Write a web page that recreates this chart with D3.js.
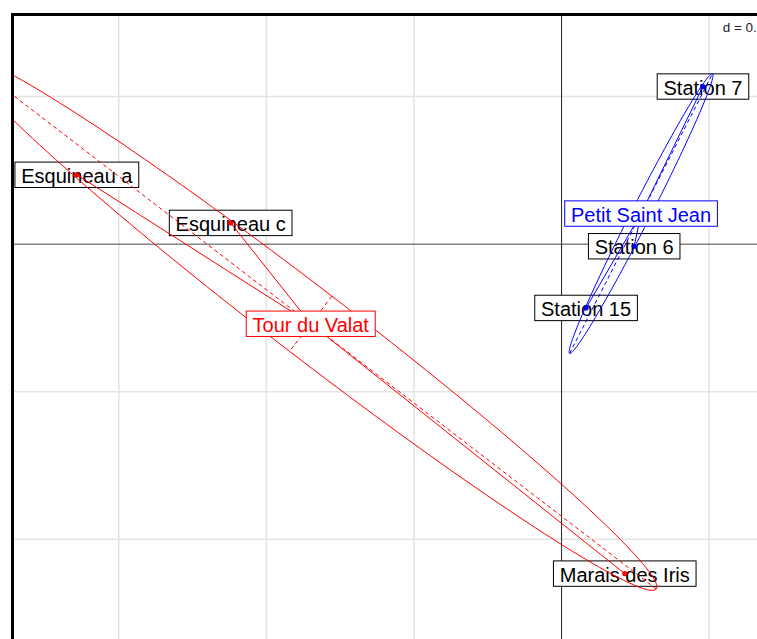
<!DOCTYPE html>
<html>
<head>
<meta charset="utf-8">
<script src="https://cdn.jsdelivr.net/npm/d3@7"></script>
<style>
  html, body { margin: 0; padding: 0; background: #fff; }
  svg { display: block; }
  text { font-family: "Liberation Sans", Arial, sans-serif; }
</style>
</head>
<body>
<svg id="chart" width="757" height="639"></svg>
<script>
// Site coordinates on the first two factorial axes
const sites   = ["Esquineau a", "Esquineau c", "Marais des Iris", "Station 7", "Station 6", "Station 15"];
const axis1   = [-1.642, -1.121, 0.214, 0.479, 0.246, 0.083];
const axis2   = [0.235, 0.072, -1.116, 0.534, -0.007, -0.216];
const groupOf = ["Tour du Valat", "Tour du Valat", "Tour du Valat", "Petit Saint Jean", "Petit Saint Jean", "Petit Saint Jean"];

// Groups and their colours
const groups      = ["Tour du Valat", "Petit Saint Jean"];
const groupColors = ["#ff0000", "#0000ff"];

// Grid lines (step 0.5)
const gridLabel = "d = 0.5";
const xTicks = [-1.5, -1, -0.5, 0.5];
const yTicks = [0.5, -0.5, -1];

const cellipse = 1.5;

const svg = d3.select("#chart");
const unit = 295.2;
const panelLeft = 12.5, panelTop = 14.5;
const xDom = [-1.86, 0.80], yDom = [0.778, -1.45];
const x = d3.scaleLinear().domain(xDom).range([panelLeft, panelLeft + (xDom[1] - xDom[0]) * unit]);
const y = d3.scaleLinear().domain(yDom).range([panelTop, panelTop + (yDom[0] - yDom[1]) * unit]);
const panelRight = x(xDom[1]), panelBottom = y(yDom[1]);

svg.append("defs").append("clipPath").attr("id", "panel")
  .append("rect").attr("x", panelLeft).attr("y", panelTop)
  .attr("width", panelRight - panelLeft).attr("height", panelBottom - panelTop);

const g = svg.append("g").attr("clip-path", "url(#panel)");

// grid
g.selectAll("line.gx").data(xTicks).join("line")
  .attr("x1", d => x(d)).attr("x2", d => x(d))
  .attr("y1", panelTop).attr("y2", panelBottom)
  .attr("stroke", "#e3e3e3").attr("stroke-width", 1.5);
g.selectAll("line.gy").data(yTicks).join("line")
  .attr("y1", d => y(d)).attr("y2", d => y(d))
  .attr("x1", panelLeft).attr("x2", panelRight)
  .attr("stroke", "#e3e3e3").attr("stroke-width", 1.5);

// origin axes
g.append("line").attr("x1", x(0)).attr("x2", x(0)).attr("y1", panelTop).attr("y2", panelBottom)
  .attr("stroke", "#222").attr("stroke-width", 1);
g.append("line").attr("y1", y(0)).attr("y2", y(0)).attr("x1", panelLeft).attr("x2", panelRight)
  .attr("stroke", "#444").attr("stroke-width", 1);

const fontSize = 20;
const pad = 6.3, boxH = 25.4;

function boxedLabel(parent, px, py, txt, color) {
  const lg = parent.append("g");
  const t = lg.append("text")
    .attr("x", px).attr("y", py).attr("dy", "0.4em")
    .attr("text-anchor", "middle")
    .attr("font-size", fontSize)
    .attr("fill", color)
    .text(txt);
  const w = t.node().getComputedTextLength();
  lg.insert("rect", "text")
    .attr("x", px - w / 2 - pad).attr("y", py - boxH / 2)
    .attr("width", w + 2 * pad).attr("height", boxH)
    .attr("fill", "#fff").attr("stroke", color).attr("stroke-width", 1);
}

// site labels
const pts = sites.map((s, i) => ({ name: s, x: axis1[i], y: axis2[i], grp: groupOf[i] }));
const siteLayer = g.append("g");
pts.forEach(p => boxedLabel(siteLayer, x(p.x), y(p.y), p.name, "#000"));

// group ellipses, stars and ellipse axes
const classLayer = g.append("g");
const centers = [];
groups.forEach((grp, gi) => {
  const col = groupColors[gi];
  const members = pts.filter(p => p.grp === grp);
  const n = members.length;
  const mx = d3.mean(members, p => p.x), my = d3.mean(members, p => p.y);
  const vx = d3.sum(members, p => (p.x - mx) ** 2) / n;
  const vy = d3.sum(members, p => (p.y - my) ** 2) / n;
  const cxy = d3.sum(members, p => (p.x - mx) * (p.y - my)) / n;
  const tr = vx + vy, det = vx * vy - cxy * cxy;
  const disc = Math.sqrt(tr * tr / 4 - det);
  const l1 = tr / 2 + disc, l2 = Math.max(tr / 2 - disc, 0);
  let ux = cxy, uy = l1 - vx;
  const nn = Math.hypot(ux, uy); ux /= nn; uy /= nn;
  const a = cellipse * Math.sqrt(l1), b = cellipse * Math.sqrt(l2);
  const vxp = -uy, vyp = ux;
  centers.push({ grp, col, mx, my });

  const ell = d3.range(0, 361, 2).map(t => {
    const r = t * Math.PI / 180;
    return [x(mx + a * Math.cos(r) * ux + b * Math.sin(r) * vxp),
            y(my + a * Math.cos(r) * uy + b * Math.sin(r) * vyp)];
  });
  classLayer.append("path").attr("d", d3.line()(ell))
    .attr("fill", "none").attr("stroke", col).attr("stroke-width", 1);

  // ellipse axes
  [[a, ux, uy], [b, vxp, vyp]].forEach(([len, dx, dy]) => {
    classLayer.append("line")
      .attr("x1", x(mx - len * dx)).attr("y1", y(my - len * dy))
      .attr("x2", x(mx + len * dx)).attr("y2", y(my + len * dy))
      .attr("stroke", col).attr("stroke-width", 1).attr("stroke-dasharray", "4,3");
  });

  // star
  members.forEach(p => {
    classLayer.append("line")
      .attr("x1", x(mx)).attr("y1", y(my)).attr("x2", x(p.x)).attr("y2", y(p.y))
      .attr("stroke", col).attr("stroke-width", 1);
  });
  members.forEach(p => {
    classLayer.append("circle").attr("cx", x(p.x)).attr("cy", y(p.y)).attr("r", 2.6)
      .attr("fill", col);
  });
});

// group labels
centers.forEach(c => boxedLabel(g, x(c.mx), y(c.my), c.grp, c.col));

// grid size legend
const dg = g.append("g");
const dt = dg.append("text").attr("x", 722.7).attr("y", 31.5)
  .attr("font-size", 13.5).attr("fill", "#222").text(gridLabel);
const dw = dt.node().getComputedTextLength();
dg.insert("rect", "text").attr("x", 720).attr("y", 18).attr("width", dw + 6).attr("height", 17)
  .attr("fill", "#fff");

// panel frame
svg.append("rect").attr("x", panelLeft).attr("y", panelTop)
  .attr("width", panelRight - panelLeft).attr("height", panelBottom - panelTop)
  .attr("fill", "none").attr("stroke", "#000").attr("stroke-width", 3);
</script>
</body>
</html>
